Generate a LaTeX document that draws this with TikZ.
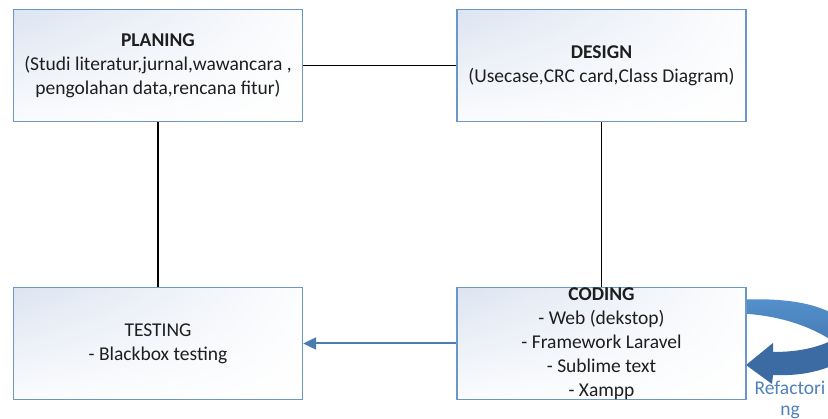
\documentclass[tikz,border=0pt]{standalone}
\usepackage{fontspec}
\setmainfont{Carlito}
\usetikzlibrary{arrows.meta,shadings}
\definecolor{boxline}{HTML}{6A96C8}
\definecolor{boxtint}{HTML}{DCE4F1}
\definecolor{flowblue}{HTML}{4A7BB1}
\definecolor{ringlight}{HTML}{5591CC}
\definecolor{ringmid}{HTML}{4479B4}
\definecolor{ringdark}{HTML}{3B6BA2}
\definecolor{labelblue}{HTML}{4F81BD}
\definecolor{ink}{HTML}{1E1E1E}
\tikzset{
  phase/.style={draw=boxline, line width=1.3pt, rectangle,
    minimum width=289pt, minimum height=112pt, inner sep=0pt,
    align=center, font=\fontsize{19.5}{24}\selectfont, text=ink,
    upper left=boxtint, upper right=white!92!boxtint,
    lower left=white!88!boxtint, lower right=white, shade},
  link/.style={draw=black, line width=1.3pt},
  flow/.style={draw=flowblue, line width=2pt,
    -{Triangle[length=13pt,width=12pt]}},
}
\begin{document}
\begin{tikzpicture}[x=1pt,y=-1pt]
\useasboundingbox (0,0) rectangle (828,419);
\fill[white] (0,0) rectangle (828,419);

% refactoring loop on the right of the coding phase
\begin{scope}
  \clip (0,0) rectangle (828,419);
  % upper band of the loop
  \shade[top color=ringlight, bottom color=ringmid]
    (730,300) .. controls (785,297) and (818,303) .. (840,318)
    -- (840,346) .. controls (818,330) and (785,314) .. (730,313) -- cycle;
  % returning shaft with arrow head
  \fill[ringdark]
    (773,352) .. controls (800,352) and (822,347) .. (840,336)
    -- (840,362) .. controls (820,372) and (800,376) .. (773,375)
    -- (772,384) -- (746,365) -- (773,343) -- cycle;
\end{scope}

\node[phase] (plan) at (158,65.5)
  {\textbf{PLANING}\\(Studi literatur,jurnal,wawancara ,\\pengolahan data,rencana fitur)};
\node[phase] (design) at (601.5,65.5)
  {\textbf{DESIGN}\\(Usecase,CRC card,Class Diagram)};
\node[phase] (test) at (158,343.5)
  {TESTING\\- Blackbox testing};
\node[phase] (code) at (601.5,343.5)
  {\textbf{CODING}\\- Web (dekstop)\\- Framework Laravel\\- Sublime text\\- Xampp};

\draw[link] (plan.east) -- (design.west);
\draw[link] (plan.south) -- (test.north);
\draw[link] (design.south) -- (code.north);
\draw[flow] (code.west) -- (test.east);

\node[text=labelblue, align=center, font=\fontsize{19.5}{21}\selectfont,
  inner sep=0pt] (refac) at (790,400) {Refactori\\ng};
\end{tikzpicture}
\end{document}
